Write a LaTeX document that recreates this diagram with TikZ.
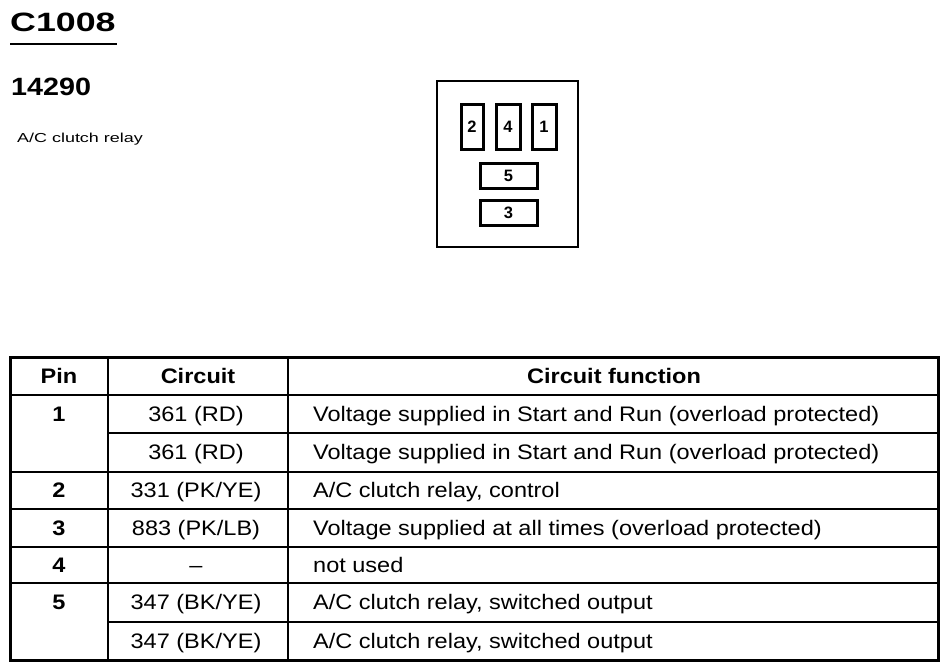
\documentclass[tikz,border=0pt]{standalone}
\usepackage{fontspec}
\usepackage{graphicx}
\setmainfont{Liberation Sans}
\newcommand\tblx[1]{\scalebox{1.12}[1]{#1}}
\begin{document}
\begin{tikzpicture}[x=1pt,y=-1pt,
  touter/.style={line width=3pt},
  tinner/.style={line width=2.6pt},
  conbox/.style={line width=2.6pt},
  pinbox/.style={draw,line width=3pt,inner sep=0pt,font=\fontsize{16.5}{16.5}\selectfont\bfseries},
  cellc/.style={anchor=base,inner sep=0pt,font=\fontsize{21}{21}\selectfont},
  celll/.style={anchor=base west,inner sep=0pt,font=\fontsize{21}{21}\selectfont},
  headc/.style={anchor=base,inner sep=0pt,font=\fontsize{21}{21}\selectfont\bfseries}]
\useasboundingbox (0,0) rectangle (950,670);
% titles
\node[anchor=base west,inner sep=0pt,font=\fontsize{26.5}{26.5}\selectfont\bfseries] (title) at (10,31) {\scalebox{1.35}[1]{C1008}};
\draw[line width=2.5pt] (title.south west |- 0,44) coordinate (ulA) -- (117,44) coordinate (ulB);
\node[anchor=base west,inner sep=0pt,font=\fontsize{25}{25}\selectfont\bfseries] (num) at (11,95) {\scalebox{1.15}[1]{14290}};
\node[anchor=base west,inner sep=0pt,font=\fontsize{13}{13}\selectfont] (desc) at (17,142) {\scalebox{1.38}[1]{A/C clutch relay}};
% connector
\draw[conbox] (437,81) rectangle (578,247);
\node[pinbox,minimum width=22pt,minimum height=45pt] (p2) at (472,126.5) {2};
\node[pinbox,minimum width=24pt,minimum height=45pt] (p4) at (508,126.5) {4};
\node[pinbox,minimum width=24pt,minimum height=45pt] (p1) at (544,126.5) {1};
\node[pinbox,minimum width=57pt,minimum height=25pt] (p5) at (508.5,175.5) {5};
\node[pinbox,minimum width=57pt,minimum height=25pt] (p3) at (508.5,212.5) {3};
% table lines
\draw[tinner] (10,395) -- (938,395);
\draw[tinner] (108,433) -- (938,433);
\draw[tinner] (10,472) -- (938,472);
\draw[tinner] (10,509) -- (938,509);
\draw[tinner] (10,547) -- (938,547);
\draw[tinner] (10,583) -- (938,583);
\draw[tinner] (108,622) -- (938,622);
\draw[tinner] (108,357) -- (108,660);
\draw[tinner] (288,357) -- (288,660);
\draw[touter] (10,357) rectangle (938,660);
% header
\node[headc] (h1) at (59,383) {\tblx{Pin}};
\node[headc] (h2) at (198,383) {\tblx{Circuit}};
\node[headc] (h3) at (614,383) {\tblx{Circuit function}};
% rows
\node[headc] (r1p) at (59,421) {\tblx{1}};
\node[cellc] (r1c) at (196,421) {\tblx{361 (RD)}};
\node[celll] (r1f) at (313,421) {\tblx{Voltage supplied in Start and Run (overload protected)}};
\node[cellc] (r1bc) at (196,459) {\tblx{361 (RD)}};
\node[celll] (r1bf) at (313,459) {\tblx{Voltage supplied in Start and Run (overload protected)}};
\node[headc] (r2p) at (59,497) {\tblx{2}};
\node[cellc] (r2c) at (196,497) {\tblx{331 (PK/YE)}};
\node[celll] (r2f) at (313,497) {\tblx{A/C clutch relay, control}};
\node[headc] (r3p) at (59,535) {\tblx{3}};
\node[cellc] (r3c) at (196,535) {\tblx{883 (PK/LB)}};
\node[celll] (r3f) at (313,535) {\tblx{Voltage supplied at all times (overload protected)}};
\node[headc] (r4p) at (59,572) {\tblx{4}};
\node[cellc] (r4c) at (196,572) {\tblx{--}};
\node[celll] (r4f) at (313,572) {\tblx{not used}};
\node[headc] (r5p) at (59,609) {\tblx{5}};
\node[cellc] (r5c) at (196,609) {\tblx{347 (BK/YE)}};
\node[celll] (r5f) at (313,609) {\tblx{A/C clutch relay, switched output}};
\node[cellc] (r5bc) at (196,648) {\tblx{347 (BK/YE)}};
\node[celll] (r5bf) at (313,648) {\tblx{A/C clutch relay, switched output}};
\end{tikzpicture}
\end{document}
